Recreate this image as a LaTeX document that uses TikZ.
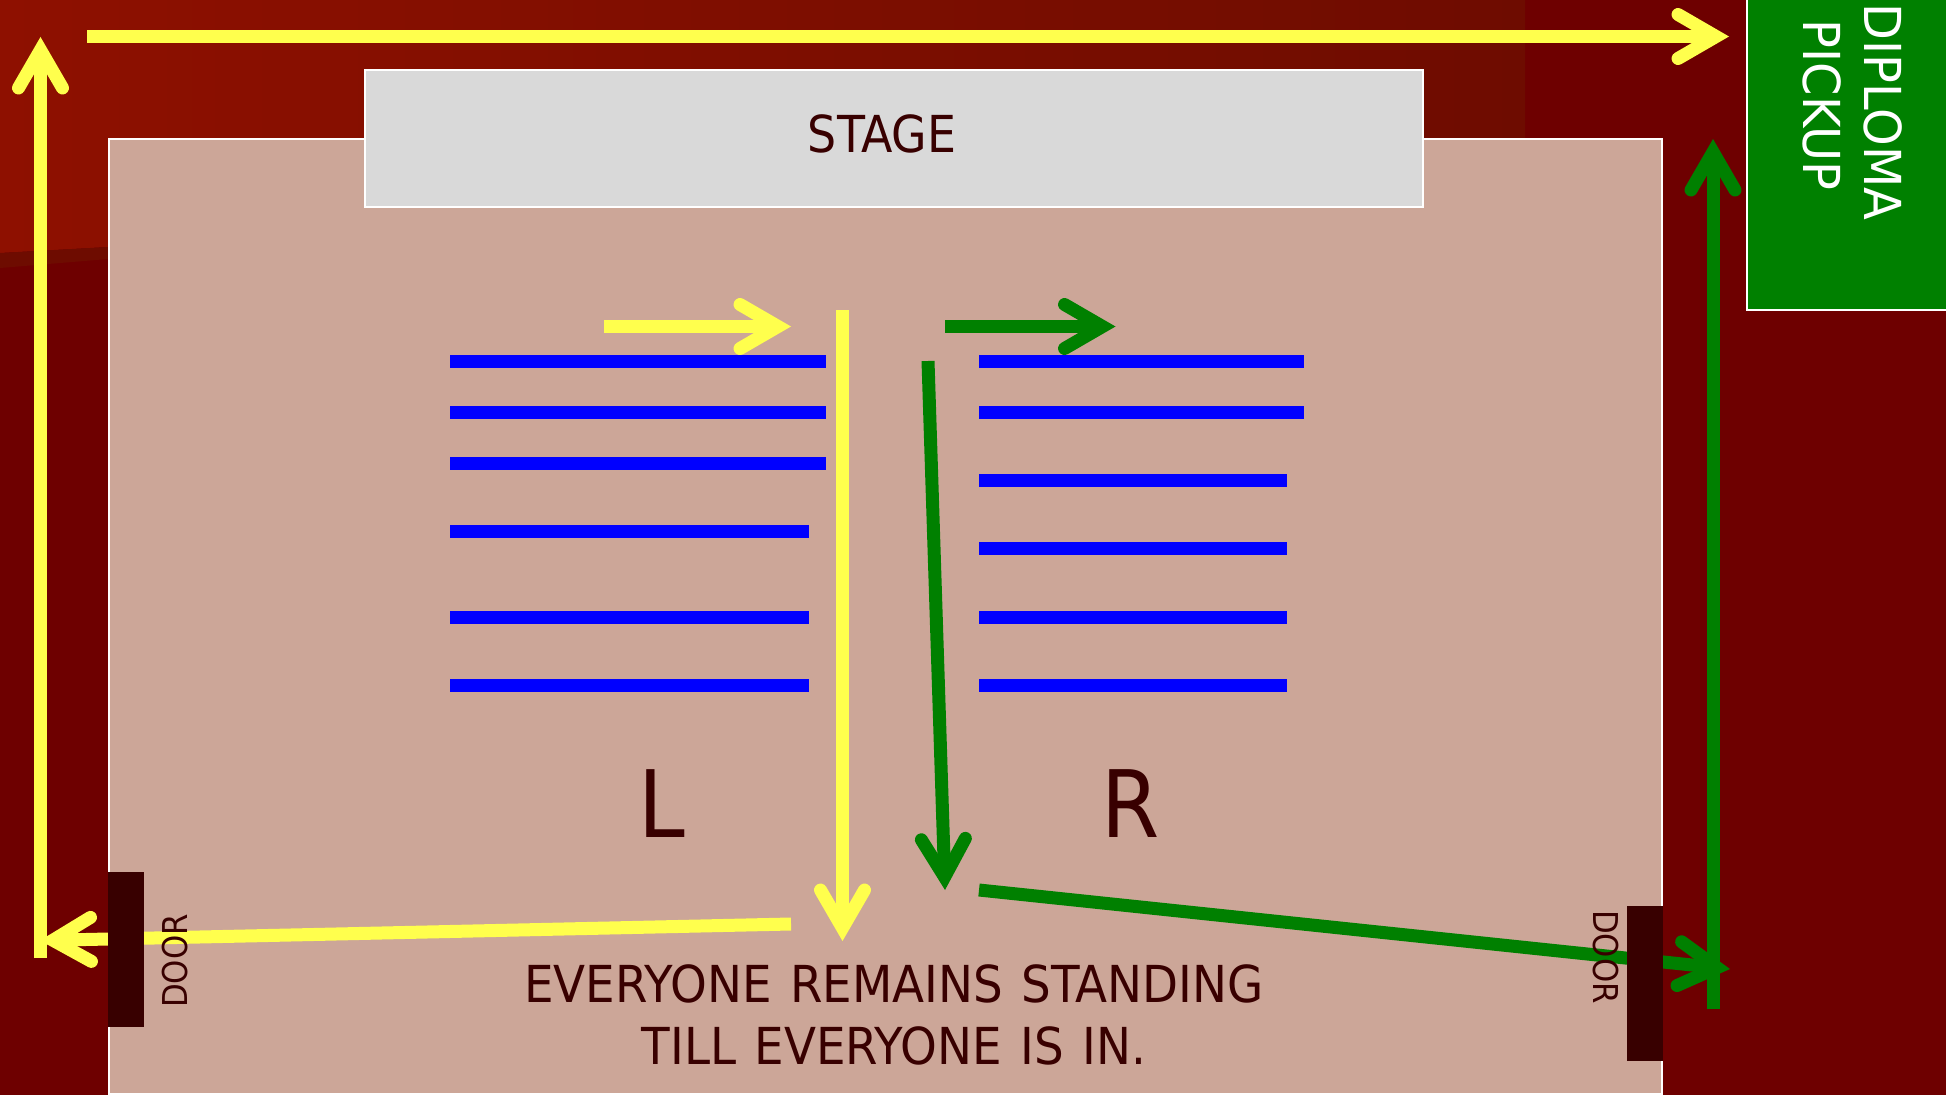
\documentclass[tikz,border=0pt]{standalone}
\usepackage{fontspec}
\setmainfont{DejaVu Sans Condensed}
\newfontfamily\noticefont[WordSpace=1.25,FakeStretch=1.02]{DejaVu Sans Condensed}
\usetikzlibrary{arrows.meta}
\definecolor{wallred}{HTML}{6E0000}
\definecolor{glowred}{HTML}{8E1000}
\definecolor{midred}{HTML}{860E00}
\definecolor{fadered}{HTML}{6E0C00}
\definecolor{floortan}{HTML}{CCA698}
\definecolor{stagegray}{HTML}{D9D9D9}
\definecolor{doordark}{HTML}{380000}
\definecolor{pathyellow}{HTML}{FFFF4D}
\definecolor{pathgreen}{HTML}{008000}

\begin{document}
\begin{tikzpicture}[x=0.02cm,y=-0.02cm]
    % Define the styles for the walking paths, rows and labels
    \tikzstyle{open head}=[-{Straight Barb[length=0.76cm,width=0.88cm,line width=0.26cm,line cap=round,line join=miter]}];
    \tikzstyle{yellow path}=[draw=pathyellow, line width=0.26cm, open head];
    \tikzstyle{green path}=[draw=pathgreen, line width=0.26cm, open head];
    \tikzstyle{seat row}=[draw=blue, line width=0.26cm];
    \tikzstyle{outlined}=[draw=white, line width=0.04cm];
    \tikzstyle{door}=[fill=doordark];
    \tikzstyle{big label}=[text=doordark, font=\fontsize{29}{35}\selectfont, align=center, inner sep=0pt];
    \tikzstyle{notice label}=[big label, font=\noticefont\fontsize{29}{35}\selectfont];
    \tikzstyle{pickup label}=[text=white, rotate=-90, inner sep=0pt, font=\fontsize{29}{35}\selectfont\addfontfeature{FakeStretch=1.045}];
    \tikzstyle{door label}=[text=doordark, font=\fontsize{19.5}{24}\selectfont, inner sep=0pt];
    \tikzstyle{side label}=[text=doordark, font=\fontsize{53}{60}\selectfont, inner sep=0pt];

    \useasboundingbox (0,0) rectangle (1946,1095);

    % Draw the backdrop
    \fill[wallred] (0,0) rectangle (1946,1095);
    \shade[left color=glowred, middle color=midred, right color=fadered] (0,0) -- (1525,0) -- (1525,168) -- (0,253) -- cycle;
    \fill[fadered] (0,253) -- (108,247) -- (108,259) -- (0,268) -- cycle;

    % Draw the floor, the stage and the pickup box
    \filldraw[outlined, fill=floortan] (108.5,139) rectangle (1662,1094);
    \filldraw[outlined, fill=stagegray] (364.5,70) rectangle (1423,207);
    \filldraw[outlined, fill=pathgreen] (1747,-5) rectangle (1960,310);

    % Left block of rows
    \draw[seat row] (450,361) -- (826,361);
    \draw[seat row] (450,412) -- (826,412);
    \draw[seat row] (450,463) -- (826,463);
    \draw[seat row] (450,531.5) -- (808.5,531.5);
    \draw[seat row] (450,617) -- (808.5,617);
    \draw[seat row] (450,685) -- (808.5,685);

    % Right block of rows
    \draw[seat row] (979,361) -- (1304,361);
    \draw[seat row] (979,412) -- (1304,412);
    \draw[seat row] (979,480) -- (1287,480);
    \draw[seat row] (979,548.5) -- (1287,548.5);
    \draw[seat row] (979,617) -- (1287,617);
    \draw[seat row] (979,685) -- (1287,685);

    % Define the ends of the yellow route
    \coordinate (Y1) at (604,326.5);
    \coordinate (Y2) at (791,326.5);
    \coordinate (Y3) at (842.5,310);
    \coordinate (Y4) at (842.5,941);
    \coordinate (Y5) at (791,924);
    \coordinate (Y6) at (40,940.5);
    \coordinate (Y7) at (40.5,958);
    \coordinate (Y8) at (40.5,37);
    \coordinate (Y9) at (87,36.5);
    \coordinate (Y10) at (1729,36.5);

    % Define the ends of the green route
    \coordinate (G1) at (945,326.5);
    \coordinate (G2) at (1115.5,326.5);
    \coordinate (G3) at (928,361);
    \coordinate (G4) at (945,890);
    \coordinate (G5) at (979,890);
    \coordinate (G6) at (1730,969);
    \coordinate (G7) at (1713,1009);
    \coordinate (G8) at (1713,139);

    % Draw the routes
    \draw[yellow path] (Y1) -- (Y2);
    \draw[yellow path] (Y3) -- (Y4);
    \draw[yellow path] (Y5) -- (Y6);
    \draw[yellow path] (Y7) -- (Y8);
    \draw[yellow path] (Y9) -- (Y10);
    \draw[green path] (G1) -- (G2);
    \draw[green path] (G3) -- (G4);
    \draw[green path] (G5) -- (G6);
    \draw[green path] (G7) -- (G8);

    % Draw the doors
    \fill[door] (108,872) rectangle (144,1027);
    \fill[door] (1627,906) rectangle (1663,1061);

    % Label everything
    \node[big label] (stage) at (882,133.5) {STAGE};
    \node[pickup label] (diploma) at (1883,112) {DIPLOMA};
    \node[pickup label] (pickup) at (1822,105) {PICKUP};
    \node[side label] (left) at (661.5,804) {L};
    \node[side label] (right) at (1131,804) {R};
    \node[notice label] (notice) at (894,1015) {EVERYONE REMAINS STANDING\\TILL EVERYONE IS IN.};
    \node[door label, rotate=90] (door west) at (175,961) {DOOR};
    \node[door label, rotate=-90] (door east) at (1606,957) {DOOR};
\end{tikzpicture}
\end{document}
